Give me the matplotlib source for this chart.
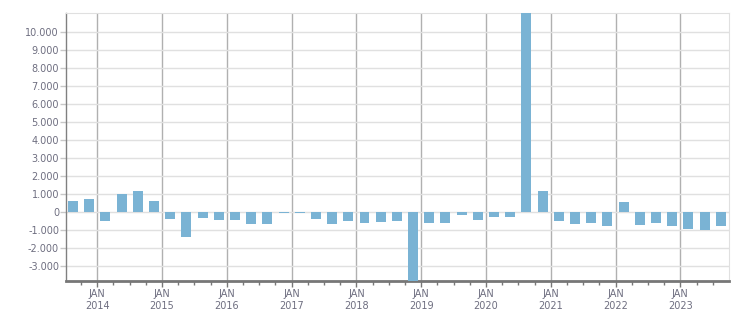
import numpy as np
import matplotlib.pyplot as plt
from matplotlib.ticker import FuncFormatter, MultipleLocator

# quarterly values, Q3 2013 .. Q3 2023 (Q3 2020 and Q4 2018 run off the chart)
values = [610, 720, -480, 1000, 1160, 610,
          -390, -1390, -330, -440,
          -440, -660, -660, -40,
          -30, -390, -660, -500,
          -610, -550, -500, -4200,
          -610, -610, -170, -440,
          -280, -280, 12000, 1160,
          -500, -670, -610, -780,
          550, -720, -610, -780,
          -940, -1000, -780]
start_year = 2013
start_quarter = 3
years = list(range(2014, 2024))

# bar centers at the middle of each quarter, in decimal years
q_index = np.arange(len(values)) + (start_quarter - 1)
x = start_year + q_index / 4 + 0.125

text_col = '#6e6e80'

fig = plt.figure(figsize=(7.51, 3.13), dpi=100)
ax = fig.add_axes([0.0879, 0.1022, 0.8824, 0.8563])

ax.bar(x, values, width=0.154, color='#7ab3d4', zorder=3)

ax.set_xlim(2013.517, 2023.747)
ax.set_ylim(-3830, 11040)

ax.set_yticks(np.arange(-3000, 10001, 1000))
ax.yaxis.set_major_formatter(FuncFormatter(lambda v, p: f'{int(v):,}'.replace(',', '.')))
ax.set_xticks(years)
ax.set_xticklabels([f'JAN\n{y}' for y in years])
ax.xaxis.set_minor_locator(MultipleLocator(0.25))

ax.grid(axis='y', color='#e0e0e0', linewidth=1, zorder=0)
ax.grid(axis='x', which='major', color='#b0b0b0', linewidth=1, zorder=1)

ax.tick_params(axis='y', labelsize=7, colors='#c8c8c8', labelcolor=text_col, length=4, width=1, pad=1)
ax.tick_params(axis='x', which='major', labelsize=7, colors='#777777', labelcolor=text_col, length=4, width=1, pad=1.5)
ax.tick_params(axis='x', which='minor', colors='#777777', length=3, width=1)

for lbl in ax.get_xticklabels():
    lbl.set_linespacing(1.25)

ax.spines['left'].set_color('#808080')
ax.spines['left'].set_linewidth(1)
ax.spines['bottom'].set_color('#777777')
ax.spines['bottom'].set_linewidth(2)
ax.spines['top'].set_color('#e0e0e0')
ax.spines['right'].set_color('#e0e0e0')

fig.savefig('out.png', dpi=100)
